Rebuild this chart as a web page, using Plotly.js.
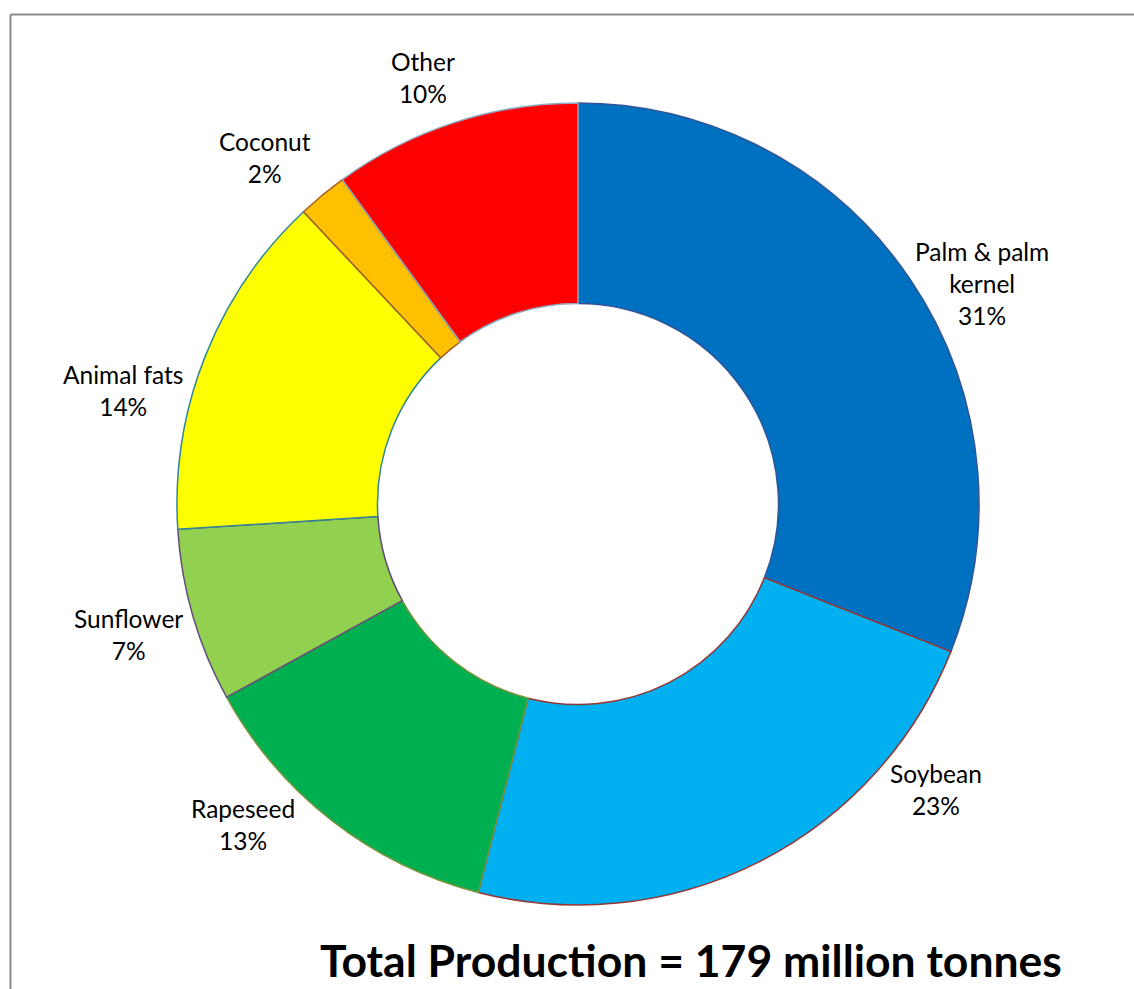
<!DOCTYPE html>
<html>
<head>
<meta charset="utf-8">
<script src="https://cdn.plot.ly/plotly-3.0.1.min.js"></script>
<style>html,body{margin:0;padding:0;background:#fff;}#chart{width:1134px;height:989px;}</style>
</head>
<body>
<div id="chart"></div>
<script>
var categories = ["Palm & palm<br>kernel", "Soybean", "Rapeseed", "Sunflower", "Animal fats", "Coconut", "Other"];
var shares = [31, 23, 13, 7, 14, 2, 10];
var sliceColors = ["#0070C0", "#00B0F0", "#00B050", "#92D050", "#FFFF00", "#FFC000", "#FF0000"];
var borderColors = ["#2F5597", "#953735", "#77933C", "#604A7B", "#31859C", "#A5602A", "#8EA9C1"];
// label centre positions in pixels (layout only)
var labelPos = [[982, 283], [936, 789], [243, 824], [128, 634], [123, 390], [265, 158], [423, 77]];

var W = 1134, H = 989;
var font = "Lato, 'Open Sans', sans-serif";

var annotations = categories.map(function (c, i) {
  return {
    xref: "paper", yref: "paper",
    x: labelPos[i][0] / W, y: 1 - labelPos[i][1] / H,
    xanchor: "center", yanchor: "middle",
    text: c + "<br>" + shares[i] + "%",
    showarrow: false,
    font: {family: font, size: 24.5, color: "#000"}
  };
});

var trace = {
  type: "pie",
  values: shares,
  labels: categories,
  hole: 0.5,
  sort: false,
  direction: "clockwise",
  rotation: 0,
  textinfo: "none",
  hoverinfo: "label+percent",
  marker: {colors: sliceColors, line: {color: borderColors, width: 1.5}},
  domain: {x: [(578 - 401) / W, (578 + 401) / W], y: [1 - 905 / H, 1 - 103 / H]},
  showlegend: false
};

var layout = {
  width: W, height: H,
  margin: {l: 0, r: 0, t: 0, b: 0},
  paper_bgcolor: "#fff",
  showlegend: false,
  title: {
    text: "<b>Total Production = 179 million tonnes</b>",
    x: 691 / W, xanchor: "center",
    y: 1 - 961 / H, yanchor: "middle",
    font: {family: font, size: 44.5, color: "#000"}
  },
  annotations: annotations,
  shapes: [
    {type: "line", xref: "paper", yref: "paper", x0: 10.5 / W, x1: 10.5 / W, y0: 0, y1: 1 - 14.5 / H, line: {color: "#8a8a8a", width: 2}},
    {type: "line", xref: "paper", yref: "paper", x0: 10.5 / W, x1: 1, y0: 1 - 14.5 / H, y1: 1 - 14.5 / H, line: {color: "#8a8a8a", width: 2}}
  ]
};

Plotly.newPlot("chart", [trace], layout, {displayModeBar: false, staticPlot: true});
</script>
</body>
</html>
